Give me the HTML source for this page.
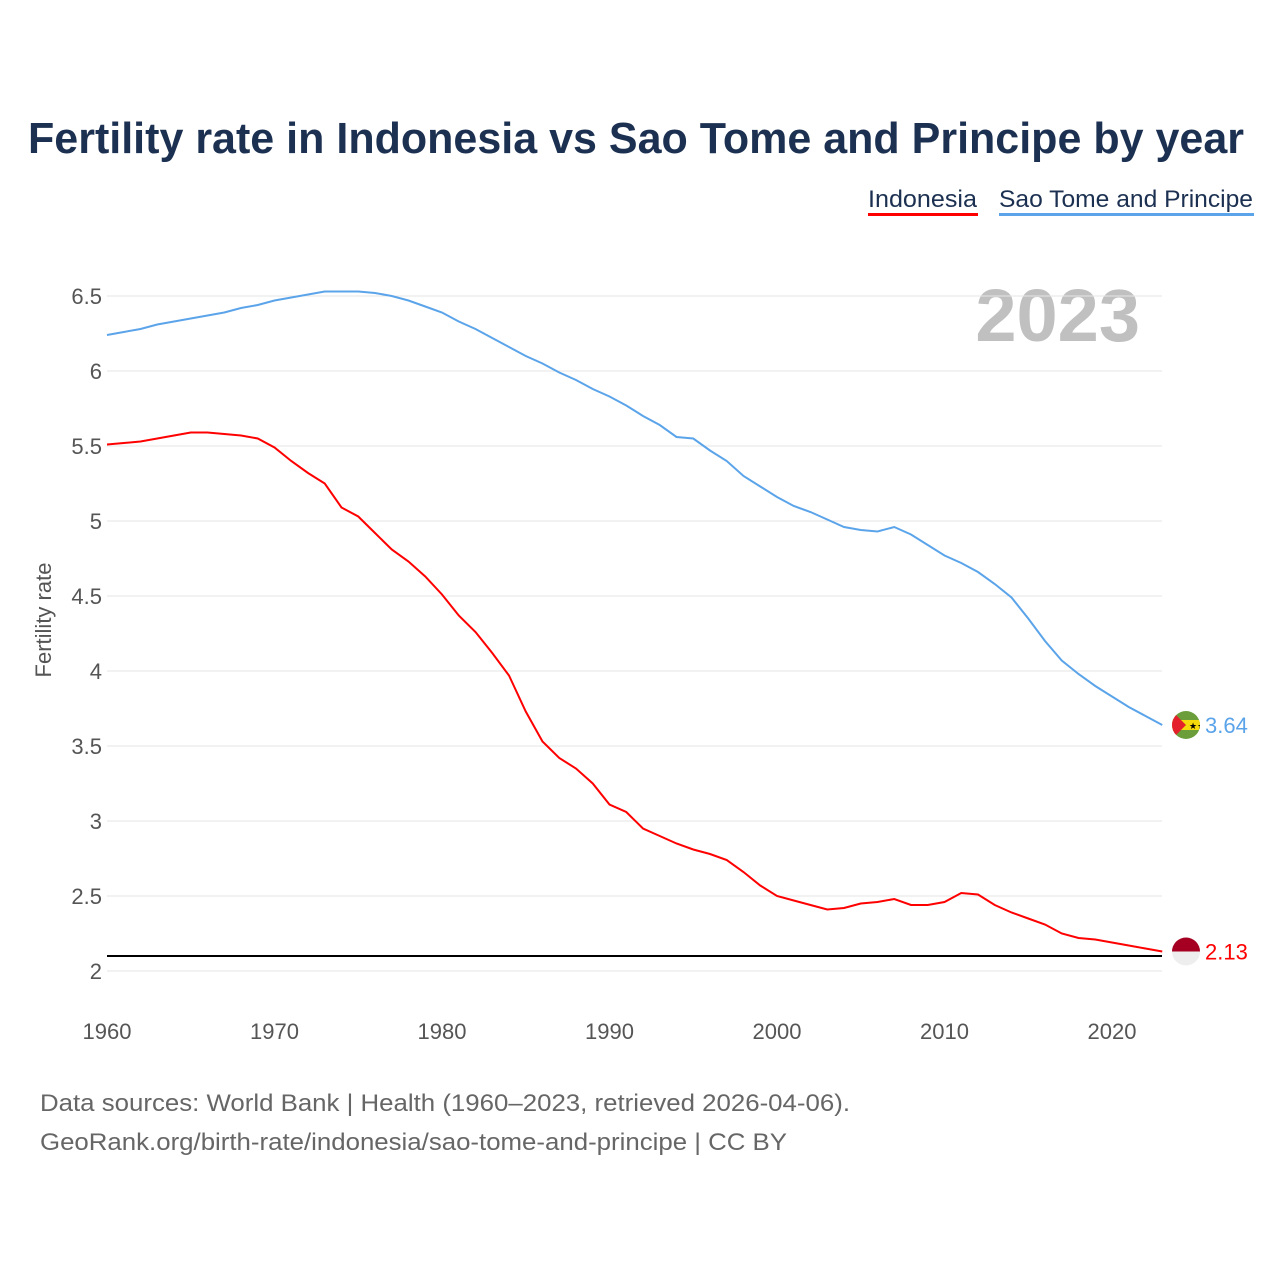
<!DOCTYPE html>
<html><head><meta charset="utf-8"><style>
body{margin:0;background:#fff;font-family:"Liberation Sans",sans-serif;}
#wrap{position:relative;width:1280px;height:1280px;overflow:hidden;}
</style></head><body>
<div id="wrap">
<svg id="chart" width="1280" height="1280">
<defs><clipPath id="c2"><circle id="c2c" cx="1186" cy="724" r="14"/></clipPath></defs>
<text x="28" y="153" textLength="1216" lengthAdjust="spacingAndGlyphs" font-size="44" font-weight="bold" fill="#1c3151">Fertility rate in Indonesia vs Sao Tome and Principe by year</text>
<g><text x="868" y="207" textLength="109" lengthAdjust="spacingAndGlyphs" font-size="24" fill="#1c3151">Indonesia</text><rect x="868" y="213" width="110" height="3" fill="#ff0000"/></g>
<g><text x="999" y="207" textLength="254" lengthAdjust="spacingAndGlyphs" font-size="24" fill="#1c3151">Sao Tome and Principe</text><rect x="999" y="213" width="255" height="3" fill="#5ba4ea"/></g>
<text x="1140" y="341" text-anchor="end" font-size="74" font-weight="bold" fill="#c0c0c0">2023</text>
<text transform="translate(51,620) rotate(-90)" text-anchor="middle" font-size="22" fill="#555">Fertility rate</text>
<g id="grid"></g><g id="xt"></g><g id="lines"></g>
<text x="40" y="1111" textLength="810" lengthAdjust="spacingAndGlyphs" font-size="24" fill="#666">Data sources: World Bank | Health (1960–2023, retrieved 2026-04-06).</text>
<text x="40" y="1150" textLength="747" lengthAdjust="spacingAndGlyphs" font-size="24" fill="#666">GeoRank.org/birth-rate/indonesia/sao-tome-and-principe | CC BY</text>
</svg></div>
<script>
const years=[];for(let y=1960;y<=2023;y++)years.push(y);
const indonesia=[5.51,5.52,5.53,5.55,5.57,5.59,5.59,5.58,5.57,5.55,5.49,5.40,5.32,5.25,5.09,5.03,4.92,4.81,4.73,4.63,4.51,4.37,4.26,4.12,3.97,3.73,3.53,3.42,3.35,3.25,3.11,3.06,2.95,2.90,2.85,2.81,2.78,2.74,2.66,2.57,2.50,2.47,2.44,2.41,2.42,2.45,2.46,2.48,2.44,2.44,2.46,2.52,2.51,2.44,2.39,2.35,2.31,2.25,2.22,2.21,2.19,2.17,2.15,2.13];
const saoTome=[6.24,6.26,6.28,6.31,6.33,6.35,6.37,6.39,6.42,6.44,6.47,6.49,6.51,6.53,6.53,6.53,6.52,6.50,6.47,6.43,6.39,6.33,6.28,6.22,6.16,6.10,6.05,5.99,5.94,5.88,5.83,5.77,5.70,5.64,5.56,5.55,5.47,5.40,5.30,5.23,5.16,5.10,5.06,5.01,4.96,4.94,4.93,4.96,4.91,4.84,4.77,4.72,4.66,4.58,4.49,4.35,4.20,4.07,3.98,3.90,3.83,3.76,3.70,3.64];
const yTicks=[2,2.5,3,3.5,4,4.5,5,5.5,6,6.5];
const xTicks=[1960,1970,1980,1990,2000,2010,2020];
const replacement=2.1;
const X=v=>107+(v-1960)*16.75, Y=v=>971-(v-2)*150;
const NS='http://www.w3.org/2000/svg';
function mk(t,a,p){const e=document.createElementNS(NS,t);for(const k in a)e.setAttribute(k,a[k]);p.appendChild(e);return e;}
const g=document.getElementById('grid');
yTicks.forEach(v=>{
 const l=mk('line',{x1:107,x2:1162,y1:Y(v),y2:Y(v),stroke:'#e6e6e6','stroke-width':1},g);
 
 
 const t=mk('text',{x:102,y:Y(v)+8,'text-anchor':'end','font-size':22,fill:'#555'},g);t.textContent=String(v);
 
 
});
const xt=document.getElementById('xt');
xTicks.forEach(v=>{const t=mk('text',{x:X(v),y:1039,'text-anchor':'middle','font-size':22,fill:'#555'},xt);t.textContent=v;
 
 });
const L=document.getElementById('lines');
const rl=mk('line',{x1:107,x2:1162,y1:Y(replacement),y2:Y(replacement),stroke:'#000','stroke-width':2},L);


function series(d,c,name){
 const p=mk('path',{d:d.map((v,i)=>(i?'L':'M')+X(years[i])+' '+Y(v)).join(''),fill:'none',stroke:c,'stroke-width':2},L);
 
 
 const last=d[d.length-1];
 const t=mk('text',{x:1205,y:Y(last)+8,'font-size':22,fill:c},L);t.textContent=last.toFixed(2);
 
 
 return Y(last);
}
const yi=series(indonesia,'#ff0000','indonesia');
const ys=series(saoTome,'#5ba4ea','sao-tome');
const f1=mk('g',{},L);


mk('circle',{cx:1186,cy:yi,r:14,fill:'#eee'},f1);
mk('path',{d:`M1172 ${yi} A14 14 0 0 1 1200 ${yi} Z`,fill:'#a50021'},f1);
document.getElementById('c2c').setAttribute('cy',ys);
const f2=mk('g',{'clip-path':'url(#c2)'},L);


mk('rect',{x:1172,y:ys-14,width:28,height:28,fill:'#6b9e3a'},f2);
mk('rect',{x:1172,y:ys-5,width:28,height:10,fill:'#f5d90a'},f2);
mk('path',{d:`M1172 ${ys-14} L1186 ${ys} L1172 ${ys+14} Z`,fill:'#e4212b'},f2);
mk('text',{x:1189,y:ys+4,'font-size':9,fill:'#000'},f2).textContent='★★';
</script>
</body></html>
